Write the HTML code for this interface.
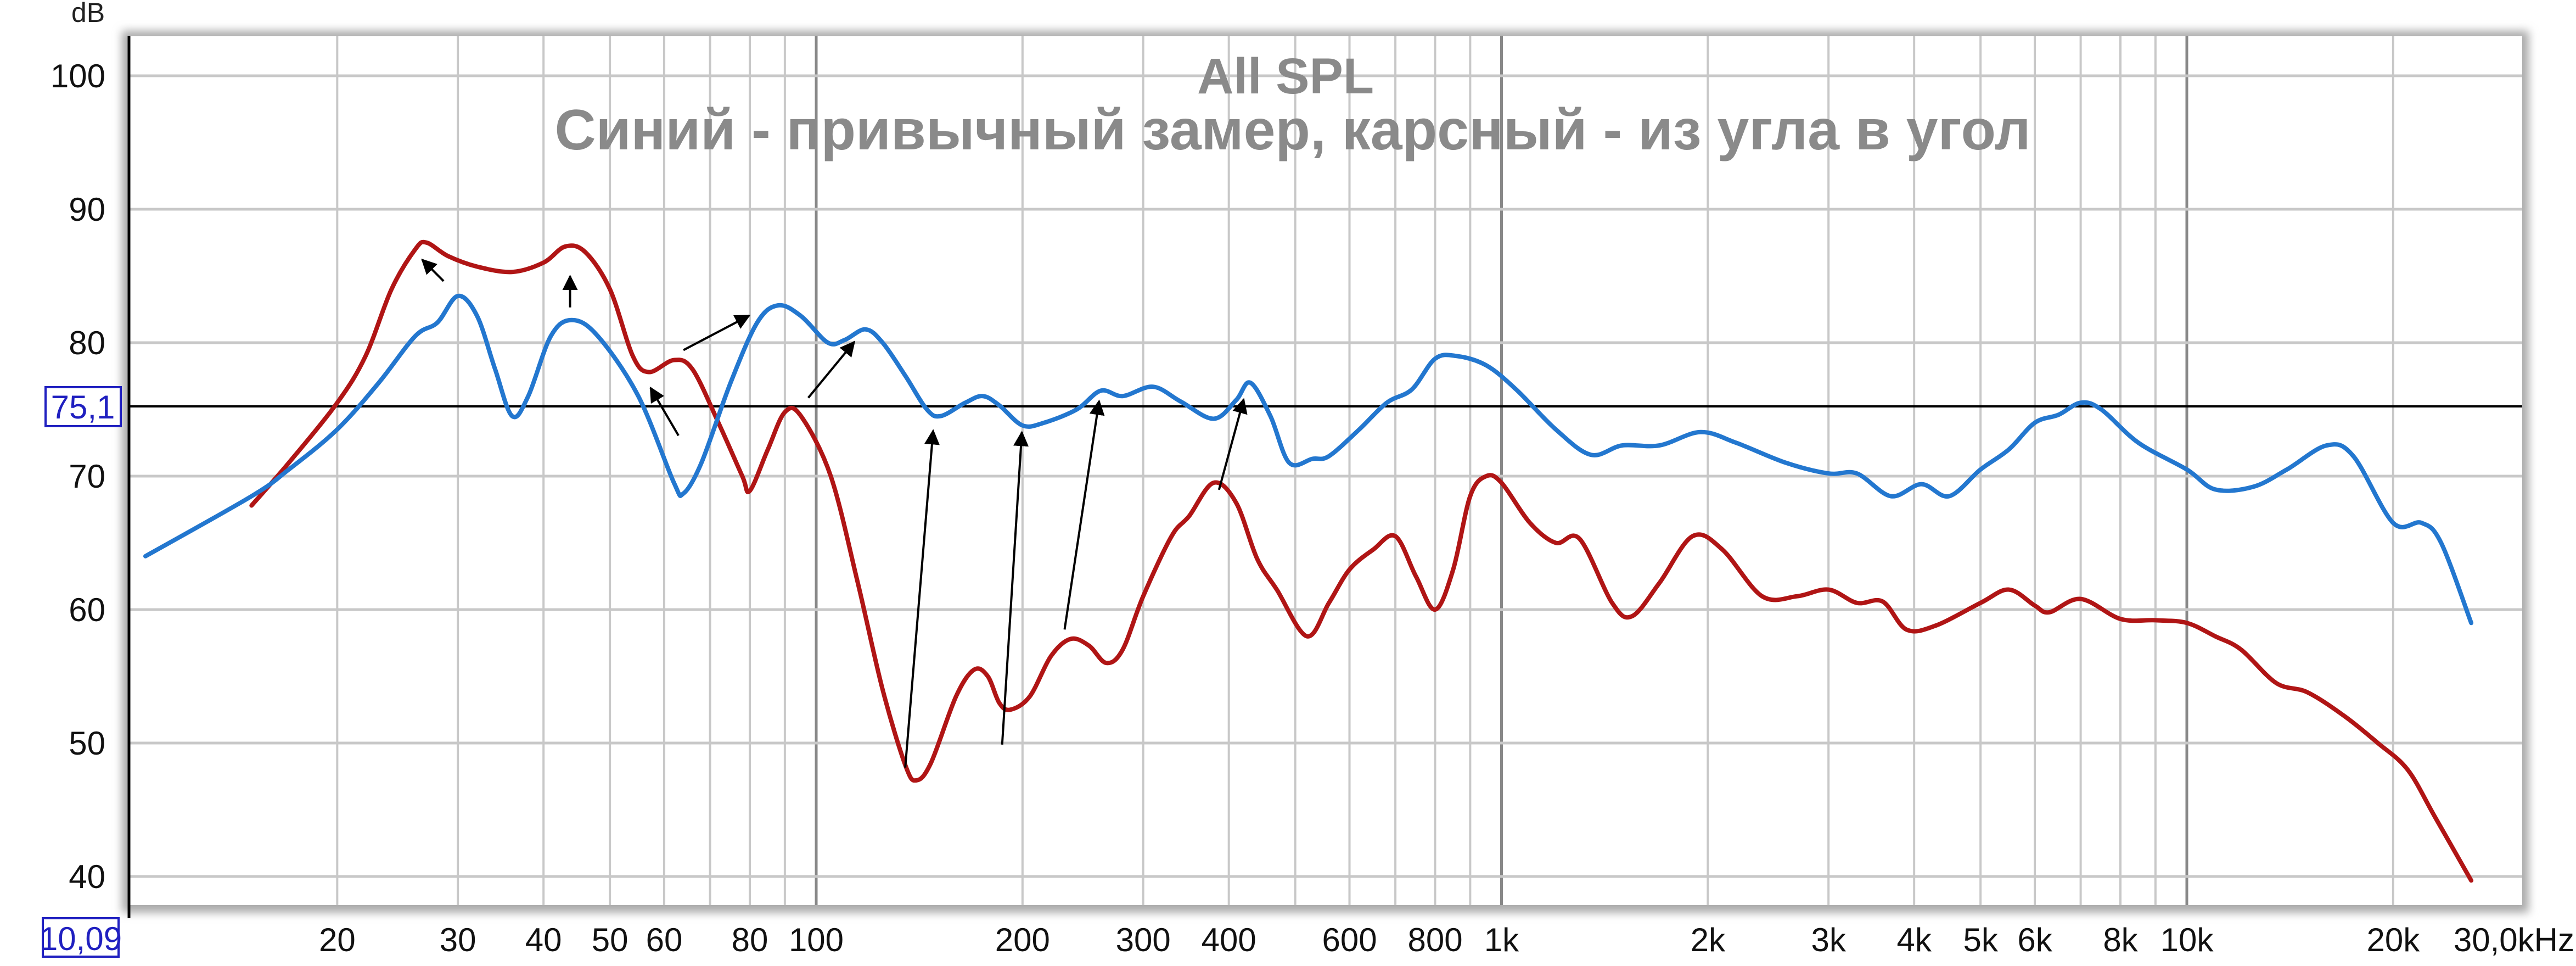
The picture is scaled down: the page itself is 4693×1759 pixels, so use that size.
<!DOCTYPE html>
<html><head><meta charset="utf-8">
<style>
html,body{margin:0;padding:0;background:#fff;}
svg text{font-family:"Liberation Sans",sans-serif;}
</style></head>
<body>
<svg id="s" width="4693" height="1754" viewBox="0 0 4693 1754" xmlns="http://www.w3.org/2000/svg">
<defs>
<filter id="sh" x="-5%" y="-5%" width="110%" height="110%"><feGaussianBlur stdDeviation="8"/></filter>
<marker id="ah" viewBox="0 0 10 10" refX="9" refY="5" markerWidth="7" markerHeight="7" orient="auto"><path d="M0,0 L10,5 L0,10 Z" fill="#000"/></marker>
</defs>
<rect x="222" y="56" width="4385" height="1606" fill="#aaa" filter="url(#sh)"/>
<rect x="235" y="66" width="4360" height="1582" fill="#fff"/>
<g id="grid"></g>
<g id="curves"></g>
<g id="arrows"></g>
<g id="labels"></g>
<text x="2342" y="170" font-size="92" font-weight="bold" fill="#8a8a8a" text-anchor="middle">All SPL</text>
<text x="2355" y="272" font-size="104" font-weight="bold" fill="#8a8a8a" text-anchor="middle">Синий - привычный замер, карсный - из угла в угол</text>
<text x="130" y="40" font-size="50" fill="#222">dB</text>
</svg>
<script>
var NS="http://www.w3.org/2000/svg";
function X(f){return 1487+(Math.log10(f)-2)*1248.5;}
function Y(d){return 138+(100-d)*24.3;}
function el(p,t,a,txt){var e=document.createElementNS(NS,t);for(var k in a)e.setAttribute(k,a[k]);if(txt!==undefined)e.textContent=txt;p.appendChild(e);return e;}
var g=document.getElementById('grid'),L=document.getElementById('labels');
[20,30,40,50,60,70,80,90,100,200,300,400,500,600,700,800,900,1000,2000,3000,4000,5000,6000,7000,8000,9000,10000,20000].forEach(function(f){
 var dk=(f==100||f==1000||f==10000);
 el(g,'line',{x1:X(f),x2:X(f),y1:66,y2:1648,stroke:dk?'#888':'#c8c8c8','stroke-width':dk?5:4});
});
for(var d=40;d<=100;d+=10){el(g,'line',{x1:235,x2:4595,y1:Y(d),y2:Y(d),stroke:'#c8c8c8','stroke-width':5});
 el(L,'text',{x:192,y:Y(d)+21,'font-size':60,'text-anchor':'end',fill:'#111'},String(d));}
el(g,'line',{x1:235,x2:4595,y1:740,y2:740,stroke:'#000','stroke-width':4});
el(g,'line',{x1:235,x2:235,y1:66,y2:1672,stroke:'#000','stroke-width':5});
var xl=[[20,'20'],[30,'30'],[40,'40'],[50,'50'],[60,'60'],[80,'80'],[100,'100'],[200,'200'],[300,'300'],[400,'400'],[600,'600'],[800,'800'],[1000,'1k'],[2000,'2k'],[3000,'3k'],[4000,'4k'],[5000,'5k'],[6000,'6k'],[8000,'8k'],[10000,'10k'],[20000,'20k']];
xl.forEach(function(a){el(L,'text',{x:X(a[0]),y:1732,'font-size':60,'text-anchor':'middle',fill:'#111'},a[1]);});
el(L,'text',{x:4690,y:1732,'font-size':60,'text-anchor':'end',fill:'#111'},'30,0kHz');
el(L,'rect',{x:83,y:705,width:137,height:71,fill:'#fff',stroke:'#2020c0','stroke-width':4});
el(L,'text',{x:151,y:762,'font-size':60,'text-anchor':'middle',fill:'#2020c0'},'75,1');
el(L,'rect',{x:78,y:1672,width:138,height:70,fill:'#fff',stroke:'#2020c0','stroke-width':4});
el(L,'text',{x:147,y:1730,'font-size':60,'text-anchor':'middle',fill:'#2020c0'},'10,09');
function path(pts){var P=pts.map(function(p){return [X(p[0]),Y(p[1])];});
 var s='M'+P[0][0].toFixed(1)+','+P[0][1].toFixed(1);
 for(var i=0;i<P.length-1;i++){var p0=P[Math.max(i-1,0)],p1=P[i],p2=P[i+1],p3=P[Math.min(i+2,P.length-1)];
  var c1=[p1[0]+(p2[0]-p0[0])/6,p1[1]+(p2[1]-p0[1])/6],c2=[p2[0]-(p3[0]-p1[0])/6,p2[1]-(p3[1]-p1[1])/6];
  s+='C'+c1[0].toFixed(1)+','+c1[1].toFixed(1)+' '+c2[0].toFixed(1)+','+c2[1].toFixed(1)+' '+p2[0].toFixed(1)+','+p2[1].toFixed(1);}
 return s;}
var blue=[[10.5,64],[15,68.5],[17,70.5],[20,73.5],[23,77],[26,80.5],[28,81.5],[30,83.5],[32,82],[34,78],[36,74.5],[38,76],[41,80.5],[44,81.7],[48,80.5],[55,76],[62,69.5],[64,68.7],[68,71],[75,77],[82,81.5],[88,82.8],[95,82],[104,80],[110,80.2],[118,81],[125,80],[135,77.5],[145,75],[152,74.5],[165,75.5],[175,76],[185,75.3],[200,73.8],[215,74],[240,75],[260,76.4],[280,76],[310,76.7],[340,75.6],[380,74.3],[410,75.7],[430,77],[460,74.5],[490,71],[530,71.3],[560,71.5],[620,73.5],[680,75.5],[740,76.5],[800,78.8],[860,79],[950,78.3],[1050,76.5],[1200,73.5],[1350,71.6],[1500,72.3],[1700,72.3],[1950,73.3],[2200,72.5],[2600,71],[3000,70.2],[3300,70.2],[3700,68.5],[4100,69.4],[4500,68.5],[5000,70.5],[5500,72],[6000,74],[6500,74.6],[7000,75.5],[7500,75],[8500,72.5],[10000,70.5],[11000,69],[12500,69.2],[14000,70.5],[16000,72.3],[17500,71.5],[20000,66.5],[22000,66.5],[23500,65],[26000,59]];
var red=[[15,67.8],[17,71],[20,75.5],[22,79],[24,84],[26,87],[27,87.5],[29,86.5],[32,85.7],[36,85.3],[40,86],[43,87.2],[46,86.8],[50,84],[54,79],[57,77.8],[62,78.7],[66,78],[72,74],[78,70],[80,68.9],[85,72],[90,74.8],[95,74.5],[105,70],[115,62],[125,54],[135,48.3],[140,47.2],[147,48.5],[160,53.5],[170,55.5],[178,55],[185,53],[192,52.5],[205,53.5],[220,56.5],[235,57.8],[250,57.3],[265,56],[280,57],[300,61],[330,65.5],[350,67],[380,69.5],[410,68],[440,63.8],[470,61.5],[520,58],[560,60.5],[600,63],[650,64.5],[700,65.5],[750,62.5],[800,60],[850,63],[900,68.5],[950,70],[1000,69.5],[1100,66.5],[1200,65],[1300,65.3],[1450,60.5],[1550,59.5],[1700,62],[1900,65.5],[2100,64.5],[2400,61],[2700,61],[3000,61.5],[3300,60.5],[3600,60.6],[3900,58.5],[4300,58.8],[5000,60.5],[5500,61.5],[6000,60.3],[6300,59.8],[7000,60.8],[8000,59.3],[9000,59.2],[10000,59],[11000,58],[12000,57],[13500,54.5],[15000,53.8],[17000,52],[19000,50],[21000,48],[23000,44.5],[26000,39.7]];
var c=document.getElementById('curves');
el(c,'path',{d:path(red),fill:'none',stroke:'#b01515','stroke-width':8,'stroke-linejoin':'round','stroke-linecap':'round'});
el(c,'path',{d:path(blue),fill:'none',stroke:'#2377cf','stroke-width':8,'stroke-linejoin':'round','stroke-linecap':'round'});
var k=2.993,A=document.getElementById('arrows');
[[270,171,257,158],[347,187,347,168],[416,213,456,192],[492,242,520,208],[413,265,396,236],[551,467,568,262],[610,453,622,263],[648,383,669,244],[742,298,757,243]].forEach(function(a){
 el(A,'line',{x1:a[0]*k,y1:a[1]*k,x2:a[2]*k,y2:a[3]*k,stroke:'#000','stroke-width':4,'marker-end':'url(#ah)'});});
</script>
</body></html>
